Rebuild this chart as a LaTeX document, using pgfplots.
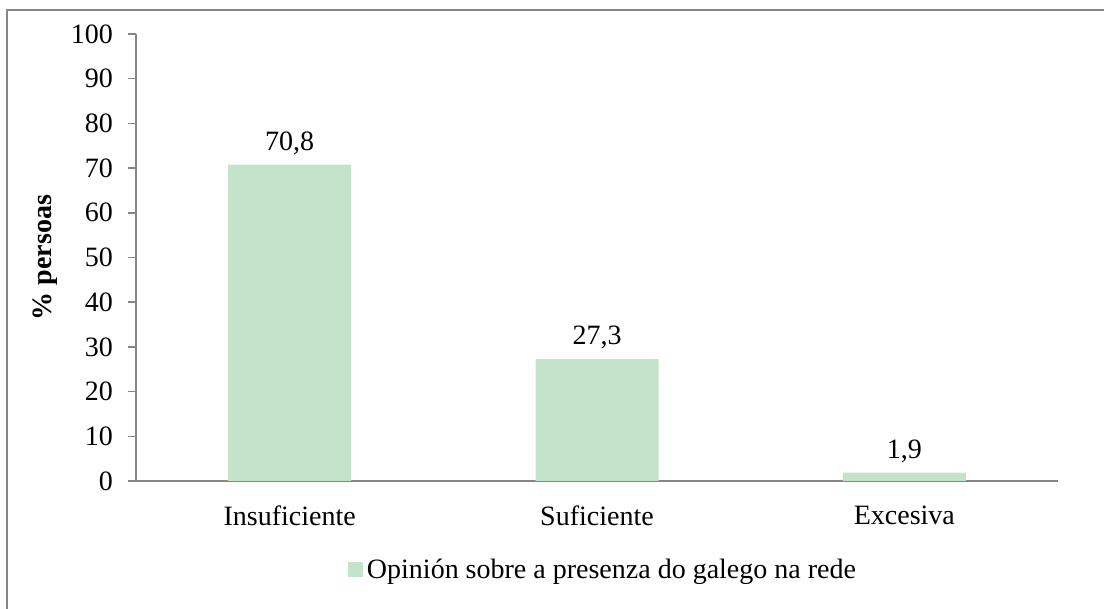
\documentclass[border=0pt]{standalone}
\usepackage{fontspec}
\setmainfont{Liberation Serif}
\usepackage{pgfplots}
\pgfplotsset{compat=1.18}
\definecolor{barc}{RGB}{195,227,203}
\definecolor{axgray}{RGB}{134,134,134}
\newcommand{\cf}{\fontsize{14}{16.5}\selectfont}
\begin{document}
\begin{tikzpicture}[font=\cf]
\useasboundingbox (-68pt,-64pt) rectangle (484pt,240.5pt);
\draw[axgray, line width=1pt] (-64.5pt,235.5pt) rectangle (490pt,-70pt);
\begin{axis}[
  at={(0,0)}, anchor=south west,
  scale only axis, width=461pt, height=223.5pt,
  xmin=-0.5, xmax=2.5, ymin=0, ymax=100,
  axis x line*=bottom, axis y line*=left,
  axis line style={axgray, line width=0.75pt, -},
  ytick={0,10,...,100},
  xtick={0,1,2},
  xticklabels={Insuficiente, Suficiente, Excesiva},
  x tick style={draw=none},
  minor xtick={-0.5,0.5,1.5,2.5},
  minor x tick style={axgray, line width=0.75pt},
  y tick style={axgray, line width=0.75pt},
  tick align=outside,
  major tick length=4pt, minor tick length=4pt,
  /pgf/number format/assume math mode=true,
  ticklabel style={font=\cf},
  yticklabel style={xshift=-4pt},
  xticklabel style={yshift=-5pt},
  ylabel={\bfseries\% persoas},
  ylabel style={at={(axis description cs:-0.0987,0.5)}, anchor=center, font=\cf},
  ybar, bar width=61.5pt,
  nodes near coords={\pgfmathprintnumber[use comma,fixed,fixed zerofill,precision=1]{\pgfplotspointmeta}},
  every node near coord/.append style={font=\cf, yshift=1.5pt},
  legend style={at={(axis description cs:0.5076,-0.199)}, anchor=center, draw=none, fill=none,
    font=\cf},
  legend image code/.code={\fill[barc] (0pt,-3.75pt) rectangle (7.5pt,3.75pt);},
  clip=false,
]
\addplot[fill=barc, draw=none] coordinates {(0,70.8) (1,27.3) (2,1.9)};
\addlegendentry{Opinión sobre a presenza do galego na rede}
\end{axis}
\end{tikzpicture}
\end{document}
